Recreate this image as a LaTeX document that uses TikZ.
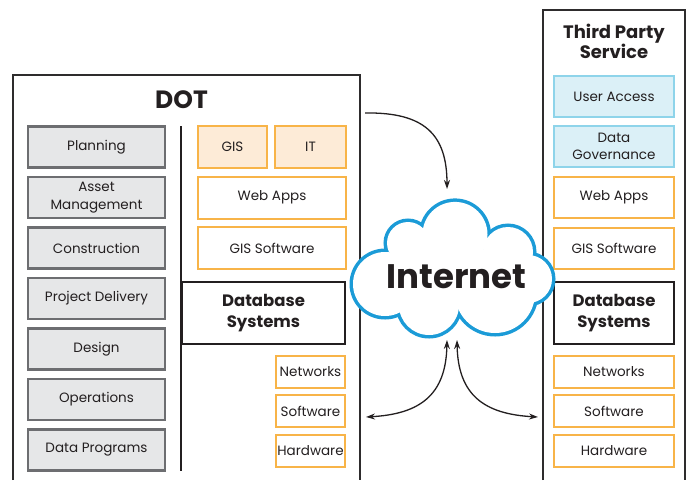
\documentclass[tikz,border=0pt]{standalone}
\usepackage{fontspec}
\setmainfont{Poppins}
\usetikzlibrary{arrows.meta}
\definecolor{ink}{HTML}{231F20}
\definecolor{frameline}{HTML}{2E2C2D}
\definecolor{gfill}{HTML}{E6E7E8}
\definecolor{gline}{HTML}{6D6E71}
\definecolor{oline}{HTML}{F8B448}
\definecolor{ofill}{HTML}{FDEBD7}
\definecolor{bfill}{HTML}{DBF0F7}
\definecolor{bline}{HTML}{8ED4EA}
\definecolor{cloudblue}{HTML}{1B9BD7}
\begin{document}
\begin{tikzpicture}[x=1pt,y=-1pt,
  base/.style={draw, line width=2pt, inner sep=0pt, align=center, text=ink,
    font=\fontsize{13.5}{17.5}\selectfont},
  graybox/.style={base, draw=gline, line width=2.5pt, fill=gfill, minimum width=137pt, minimum height=41pt},
  orangebox/.style={base, draw=oline, fill=white},
  peachbox/.style={base, draw=oline, fill=ofill},
  bluebox/.style={base, draw=bline, fill=bfill},
  dbbox/.style={base, draw=ink, line width=2.5pt, fill=white,
    font=\fontsize{16.5}{20.5}\selectfont\bfseries},
  frame/.style={draw=frameline, line width=1.6pt},
  arr/.style={draw=ink, line width=1.3pt},
  tip/.tip={Stealth[length=9pt,width=6pt]}
]
\useasboundingbox (0,0) rectangle (690,480);

% frames
\draw[frame] (13,480) -- (13,75) -- (360,75) -- (360,480);
\draw[frame] (543,480) -- (543,10) -- (685,10) -- (685,480);

% titles
\node[anchor=base, text=ink, font=\fontsize{25}{30}\selectfont\bfseries] (dot) at (181.5,108) {DOT};
\node[anchor=center, align=center, text=ink, font=\fontsize{18}{20.5}\selectfont\bfseries] (tps) at (614,41.5) {Third Party\\Service};

% DOT left column
\node[graybox] (plan) at (96.5,147) {Planning};
\node[graybox] (asset) at (96.5,197.5) {Asset\\Management};
\node[graybox] (constr) at (96.5,248) {Construction};
\node[graybox] (proj) at (96.5,298.5) {Project Delivery};
\node[graybox] (design) at (96.5,349) {Design};
\node[graybox] (oper) at (96.5,399.5) {Operations};
\node[graybox] (datap) at (96.5,450) {Data Programs};

% divider
\draw[ink, line width=2.5pt] (181,126) -- (181,471);

% DOT right column
\node[peachbox, minimum width=69pt, minimum height=42pt] (gis) at (232.5,147) {GIS};
\node[peachbox, minimum width=71pt, minimum height=42pt] (it) at (310.5,147) {IT};
\node[orangebox, minimum width=148pt, minimum height=42pt] (web1) at (272,197.5) {Web Apps};
\node[orangebox, minimum width=148pt, minimum height=42pt] (gsw1) at (272,248) {GIS Software};
\node[dbbox, minimum width=163pt, minimum height=62pt] (db1) at (263.5,313) {Database\\Systems};
\node[orangebox, minimum width=69pt, minimum height=32pt] (net1) at (310.5,372) {Networks};
\node[orangebox, minimum width=69pt, minimum height=32pt] (sw1) at (310.5,411) {Software};
\node[orangebox, minimum width=69pt, minimum height=32pt] (hw1) at (310.5,450.5) {Hardware};

% Third party column
\node[bluebox, minimum width=120pt, minimum height=41pt] (ua) at (614,96.5) {User Access};
\node[bluebox, minimum width=120pt, minimum height=41pt] (dg) at (614,146.5) {Data\\Governance};
\node[orangebox, minimum width=120pt, minimum height=41pt] (web2) at (614,197.5) {Web Apps};
\node[orangebox, minimum width=120pt, minimum height=41pt] (gsw2) at (614,248) {GIS Software};
\node[dbbox, minimum width=120pt, minimum height=62pt] (db2) at (614,313) {Database\\Systems};
\node[orangebox, minimum width=120pt, minimum height=32pt] (net2) at (614,372) {Networks};
\node[orangebox, minimum width=120pt, minimum height=32pt] (sw2) at (614,411) {Software};
\node[orangebox, minimum width=120pt, minimum height=32pt] (hw2) at (614,450.5) {Hardware};

% cloud
\def\puffs{385/284/32, 408/243/21, 455/234.4/32.5, 508/252/25, 528/279/24, 495/293/40, 429/305/30, 455/272/36, 430/275/25}
\foreach \cx/\cy/\r in \puffs {\draw[cloudblue, line width=7pt] (\cx,\cy) circle[radius=\r pt];}
\foreach \cx/\cy/\r in \puffs {\fill[white] (\cx,\cy) circle[radius=\r pt];}
\node[anchor=base, text=ink, font=\fontsize{34}{40}\selectfont\bfseries] (internet) at (456.5,288) {Internet};

% connectors
\coordinate (a1) at (365,113);
\coordinate (a2) at (447,189);
\coordinate (b1) at (447,340);
\coordinate (b2) at (366,417);
\coordinate (c1) at (457,340);
\coordinate (c2) at (538,417);
\draw[arr, -tip] (a1) .. controls (425,112) and (447,135) .. (a2);
\draw[arr, tip-tip] (b1) .. controls (446,395) and (420,414) .. (b2);
\draw[arr, tip-tip] (c1) .. controls (458,395) and (484,414) .. (c2);
\end{tikzpicture}
\end{document}
